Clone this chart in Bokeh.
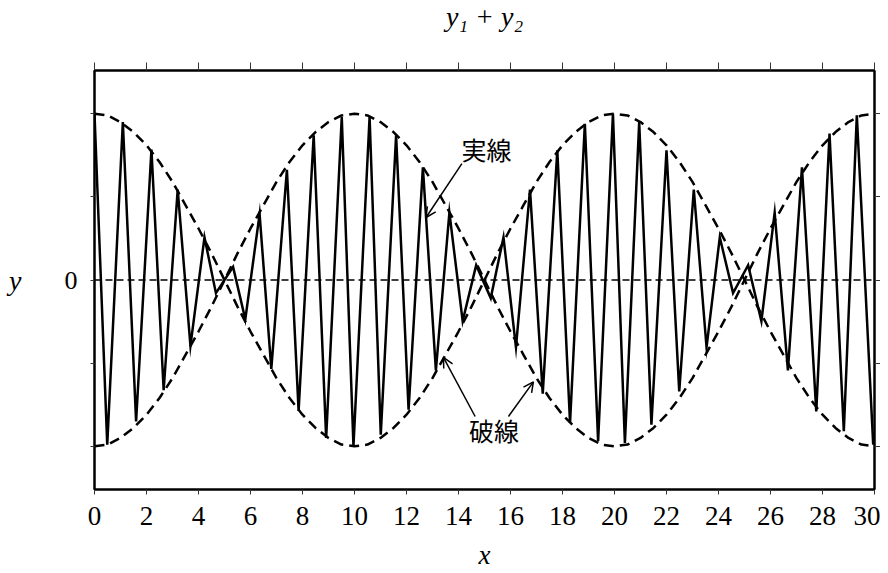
from bokeh.plotting import figure
from bokeh.models import (LinearAxis, FixedTicker, Span, Arrow, OpenHead, Label, Range1d)
from bokeh.embed import file_html
from bokeh.resources import INLINE

# ---- data ----
# solid zig-zag (y1 + y2) vertices
wave_x = [0.0, 0.49, 1.09, 1.60, 2.19, 2.66, 3.20, 3.69, 4.23, 4.67, 5.33, 5.80,
          6.35, 6.80, 7.40, 7.85, 8.43, 8.91, 9.51, 9.96, 10.58, 11.01, 11.60, 12.08,
          12.63, 13.13, 13.65, 14.16, 14.68, 15.24, 15.73, 16.21, 16.75, 17.24, 17.80,
          18.29, 18.86, 19.37, 19.94, 20.40, 20.95, 21.42, 22.00, 22.49, 23.05, 23.54,
          24.05, 24.56, 25.14, 25.65, 26.16, 26.67, 27.21, 27.76, 28.27, 28.82, 29.32,
          29.95]
wave_y = [1.00, -0.99, 0.95, -0.85, 0.785, -0.663, 0.544, -0.396, 0.257, -0.079, 0.079, -0.237,
          0.396, -0.534, 0.663, -0.787, 0.870, -0.95, 0.98, -1.00, 0.98, -0.93, 0.87, -0.78,
          0.677, -0.544, 0.405, -0.247, 0.089, -0.109, 0.257, -0.405, 0.544, -0.683, 0.78,
          -0.86, 0.94, -0.97, 1.00, -0.98, 0.95, -0.87, 0.78, -0.67, 0.544, -0.405,
          0.257, -0.079, 0.089, -0.247, 0.405, -0.544, 0.677, -0.79, 0.88, -0.91, 0.99,
          -0.99]

# dashed envelope
env_x = [0.0, 0.5, 1.0, 1.5, 2.0, 2.5, 3.0, 3.5, 4.0, 4.5, 5.0, 5.5, 6.0, 6.5, 7.0, 7.5,
         8.0, 8.5, 9.0, 9.5, 10.0, 10.5, 11.0, 11.5, 12.0, 12.5, 13.0, 13.5, 14.0, 14.5,
         15.0, 15.5, 16.0, 16.5, 17.0, 17.5, 18.0, 18.5, 19.0, 19.5, 20.0, 20.5, 21.0,
         21.5, 22.0, 22.5, 23.0, 23.5, 24.0, 24.5, 25.0, 25.5, 26.0, 26.5, 27.0, 27.5,
         28.0, 28.5, 29.0, 29.5, 30.0]
env_a = [1.00, 0.99, 0.95, 0.89, 0.81, 0.71, 0.59, 0.45, 0.31, 0.16, 0.00, -0.16, -0.31,
         -0.45, -0.59, -0.71, -0.81, -0.89, -0.95, -0.99, -1.00, -0.99, -0.95, -0.89, -0.81,
         -0.71, -0.59, -0.45, -0.31, -0.16, 0.00, 0.16, 0.31, 0.45, 0.59, 0.71, 0.81, 0.89,
         0.95, 0.99, 1.00, 0.99, 0.95, 0.89, 0.81, 0.71, 0.59, 0.45, 0.31, 0.16, 0.00,
         -0.16, -0.31, -0.45, -0.59, -0.71, -0.81, -0.89, -0.95, -0.99, -1.00]
env_b = [-v for v in env_a]

x_ticks = [0, 2, 4, 6, 8, 10, 12, 14, 16, 18, 20, 22, 24, 26, 28, 30]
y_ticks = [-1, -0.5, 0, 0.5, 1]

title_text = "y\u2081 + y\u2082"
label_solid = "実線"
label_dashed = "破線"

SERIF = "Liberation Serif"
CJK = "Noto Sans CJK JP"

p = figure(width=880, height=572, output_backend="svg", toolbar_location=None,
           x_range=Range1d(0, 30), y_range=Range1d(-1.26, 1.26),
           x_axis_location=None, y_axis_location=None,
           min_border_left=94, min_border_right=5, min_border_top=68, min_border_bottom=80)
p.xgrid.visible = False
p.ygrid.visible = False
p.outline_line_color = "black"
p.outline_line_width = 2
p.background_fill_color = "white"
p.border_fill_color = "white"

# second (empty) line keeps the title near the top edge of the page
p.title.text = title_text + "\n "
p.title.align = "center"
p.title.vertical_align = "top"
p.title.text_font = SERIF
p.title.text_font_style = "italic"
p.title.text_font_size = "28px"
p.title.text_line_height = 0.95
p.title.text_color = "black"
p.title.standoff = 0


def style_axis(ax, ticks, tick_out):
    ax.ticker = FixedTicker(ticks=ticks)
    ax.axis_line_width = 2
    ax.axis_line_color = "black"
    ax.major_tick_out = tick_out
    ax.major_tick_in = 0
    ax.major_tick_line_color = "#333333"
    ax.major_tick_line_width = 1
    ax.minor_tick_line_color = None
    ax.major_label_text_color = "black"
    ax.axis_label_text_color = "black"


bottom = LinearAxis()
top = LinearAxis()
left = LinearAxis()
right = LinearAxis()

style_axis(bottom, x_ticks, 5)
bottom.major_label_text_font = SERIF
bottom.major_label_text_font_size = "27px"
bottom.major_label_standoff = 12
bottom.axis_label = "x"
bottom.axis_label_text_font = SERIF
bottom.axis_label_text_font_style = "italic"
bottom.axis_label_text_font_size = "27px"
bottom.axis_label_standoff = 12

style_axis(top, x_ticks, 8)
top.major_label_overrides = {t: "" for t in x_ticks}
top.major_label_standoff = 0

style_axis(left, y_ticks, 4)
left.major_label_overrides = {-1: "", -0.5: "", 0: "0", 0.5: "", 1: ""}
left.major_label_text_font = SERIF
left.major_label_text_font_size = "26px"
left.major_label_standoff = 13
left.axis_label = "y"
left.axis_label_text_font = SERIF
left.axis_label_text_font_style = "italic"
left.axis_label_text_font_size = "28px"
left.axis_label_orientation = "horizontal"
left.axis_label_standoff = 40

style_axis(right, y_ticks, 6)
right.major_label_overrides = {-1: "", -0.5: "", 0: "", 0.5: "", 1: ""}
right.major_label_standoff = 0

p.add_layout(bottom, "below")
p.add_layout(top, "above")
p.add_layout(left, "left")
p.add_layout(right, "right")

# zero line
p.add_layout(Span(location=0, dimension="width", line_color="black",
                  line_width=1.5, line_dash="7 4"))

# envelopes
p.line(env_x, env_a, line_color="black", line_width=2.5, line_dash="10 6")
p.line(env_x, env_b, line_color="black", line_width=2.5, line_dash="10 6")

# solid wave
p.line(wave_x, wave_y, line_color="black", line_width=2.5, line_join="miter")

# annotations
p.add_layout(Label(x=15.08, y=0.786, text=label_solid, text_font=CJK, text_font_size="25px",
                   text_align="center", text_baseline="middle", text_color="black"))
p.add_layout(Arrow(x_start=14.13, y_start=0.70, x_end=12.75, y_end=0.376,
                   line_width=1.5, line_color="black",
                   end=OpenHead(size=10, line_width=1.5, line_color="black")))

p.add_layout(Label(x=15.37, y=-0.90, text=label_dashed, text_font=CJK, text_font_size="25px",
                   text_align="center", text_baseline="middle", text_color="black"))
p.add_layout(Arrow(x_start=14.64, y_start=-0.821, x_end=13.42, y_end=-0.465,
                   line_width=1.5, line_color="black",
                   end=OpenHead(size=10, line_width=1.5, line_color="black")))
p.add_layout(Arrow(x_start=15.92, y_start=-0.821, x_end=16.88, y_end=-0.613,
                   line_width=1.5, line_color="black",
                   end=OpenHead(size=10, line_width=1.5, line_color="black")))

open("out.html", "w").write(file_html(p, INLINE))
